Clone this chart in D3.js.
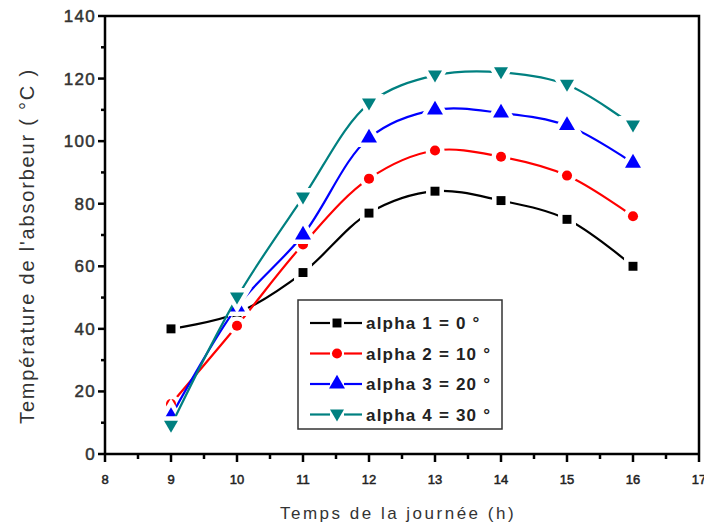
<!DOCTYPE html>
<html><head><meta charset="utf-8">
<script src="https://cdn.jsdelivr.net/npm/d3@7/dist/d3.min.js"></script>
<style>body{margin:0;background:#fff}svg{display:block}</style>
</head><body>
<script>
const hours = [9, 10, 11, 12, 13, 14, 15, 16];
const alpha1 = [40, 45, 58, 77, 84, 81, 75, 60];
const alpha2 = [16, 41, 67, 88, 97, 95, 89, 76];
const alpha3 = [12, 47, 70, 101, 110, 109, 105, 93];
const alpha4 = [9, 50, 82, 112, 121, 122, 118, 105];
const seriesNames = ["alpha 1 = 0 °", "alpha 2 = 10 °", "alpha 3 = 20 °", "alpha 4 = 30 °"];
const seriesColors = ["#000000", "#ff0000", "#0000ff", "#008080"];
const seriesSymbols = ["square", "circle", "up", "down"];
const xTicks = [8, 9, 10, 11, 12, 13, 14, 15, 16, 17];
const yTicks = [0, 20, 40, 60, 80, 100, 120, 140];

const W = 704, H = 525;
const svg = d3.select("body").append("svg").attr("width", W).attr("height", H);
const x = d3.scaleLinear().domain([8, 17]).range([105, 699]);
const y = d3.scaleLinear().domain([0, 140]).range([454, 16]);

const font = "Liberation Sans, Arial, sans-serif";

// frame top and right
svg.append("path").attr("d", `M${x(8)},${y(140)}H${x(17)}V${y(0)}`)
  .attr("fill", "none").attr("stroke", "#000").attr("stroke-width", 2.5);

// x axis
const xAxis = svg.append("g").attr("transform", `translate(0,${y(0)})`);
xAxis.append("line").attr("x1", x(8)).attr("x2", x(17)).attr("stroke", "#000").attr("stroke-width", 2.5);
d3.range(8, 17.01, 0.5).forEach(v => {
  const major = Math.abs(v - Math.round(v)) < 1e-6;
  xAxis.append("line").attr("x1", x(v)).attr("x2", x(v)).attr("y1", 0).attr("y2", major ? 8 : 5)
    .attr("stroke", "#000").attr("stroke-width", 2.5);
});
xAxis.selectAll("text.t").data(xTicks).enter().append("text")
  .attr("x", d => x(d)).attr("y", 30).attr("text-anchor", "middle")
  .attr("font-family", font).attr("font-size", 13).attr("fill", "#222")
  .attr("stroke", "#222").attr("stroke-width", 0.5).text(d => d);

// y axis
const yAxis = svg.append("g").attr("transform", `translate(${x(8)},0)`);
yAxis.append("line").attr("y1", y(0)).attr("y2", y(140)).attr("stroke", "#000").attr("stroke-width", 2.5);
d3.range(0, 140.1, 10).forEach(v => {
  const major = v % 20 === 0;
  yAxis.append("line").attr("x1", 0).attr("x2", major ? -7 : -4).attr("y1", y(v)).attr("y2", y(v))
    .attr("stroke", "#000").attr("stroke-width", 2.5);
});
yAxis.selectAll("text.t").data(yTicks).enter().append("text")
  .attr("x", -9).attr("y", d => y(d) + 6).attr("text-anchor", "end")
  .attr("font-family", font).attr("font-size", 17).attr("letter-spacing", 1.3).attr("fill", "#333")
  .attr("stroke", "#333").attr("stroke-width", 0.5).text(d => d);

// axis titles
svg.append("text").attr("x", 398).attr("y", 519).attr("text-anchor", "middle")
  .attr("font-family", font).attr("font-size", 17).attr("letter-spacing", 2.5).attr("fill", "#333")
  .text("Temps de la journée (h)");
svg.append("text").attr("transform", "translate(34,246) rotate(-90)").attr("text-anchor", "middle")
  .attr("font-family", font).attr("font-size", 20).attr("letter-spacing", 1.8).attr("fill", "#333")
  .text("Température de l'absorbeur ( °C )");

function symbolPath(kind) {
  if (kind === "square") return d3.symbol(d3.symbolSquare, 80)();
  if (kind === "circle") return d3.symbol(d3.symbolCircle, 80)();
  if (kind === "up") return d3.symbol(d3.symbolTriangle, 110)();
  return "M-7,-5L7,-5L0,7Z";
}

const allSeries = [alpha1, alpha2, alpha3, alpha4];
const line = d3.line().x(d => x(d[0])).y(d => y(d[1])).curve(d3.curveCatmullRom.alpha(0.5));

allSeries.forEach((vals, i) => {
  const pts = hours.map((h, j) => [h, vals[j]]);
  const g = svg.append("g");
  g.append("path").attr("d", line(pts)).attr("fill", "none")
    .attr("stroke", seriesColors[i]).attr("stroke-width", 2.2);
  // halo gaps
  g.selectAll("path.h").data(pts).enter().append("path")
    .attr("d", symbolPath(seriesSymbols[i]))
    .attr("transform", d => `translate(${x(d[0])},${y(d[1])})`)
    .attr("fill", "#fff").attr("stroke", "#fff").attr("stroke-width", 9);
  g.selectAll("path.m").data(pts).enter().append("path")
    .attr("d", symbolPath(seriesSymbols[i]))
    .attr("transform", d => `translate(${x(d[0])},${y(d[1])})`)
    .attr("fill", seriesColors[i]);
});

// legend
const lg = svg.append("g");
lg.append("rect").attr("x", 298).attr("y", 300).attr("width", 204).attr("height", 129)
  .attr("fill", "#fff").attr("stroke", "#333").attr("stroke-width", 1.5);
seriesNames.forEach((name, i) => {
  const ly = 323 + i * 30.5;
  lg.append("line").attr("x1", 310).attr("x2", 330).attr("y1", ly).attr("y2", ly)
    .attr("stroke", seriesColors[i]).attr("stroke-width", 2.2);
  lg.append("line").attr("x1", 344).attr("x2", 362).attr("y1", ly).attr("y2", ly)
    .attr("stroke", seriesColors[i]).attr("stroke-width", 2.2);
  lg.append("path").attr("d", symbolPath(seriesSymbols[i])).attr("transform", `translate(337,${ly})`)
    .attr("fill", seriesColors[i]);
  lg.append("text").attr("x", 366).attr("y", ly + 6).attr("font-family", font).attr("font-size", 17)
    .attr("font-weight", "bold").attr("letter-spacing", 1.2).attr("fill", "#222").text(name);
});
</script>
</body></html>
